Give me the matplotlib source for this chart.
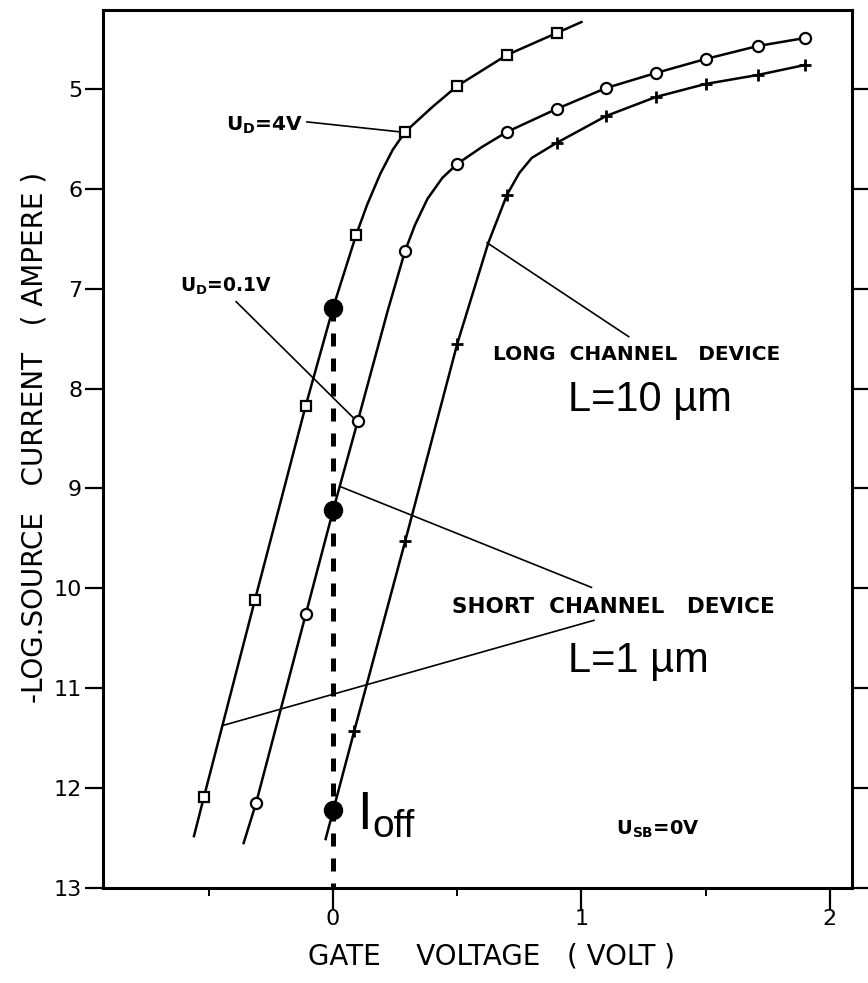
import matplotlib
matplotlib.use('agg')
import matplotlib.pyplot as plt

# -log source current vs gate voltage
sq_x = [-0.52, -0.315, -0.11, 0.093, 0.29, 0.50, 0.70, 0.90]
sq_y = [12.09, 10.12, 8.17, 6.46, 5.43, 4.97, 4.66, 4.44]
sq_path_x = [-0.56, -0.52, -0.315, -0.11, 0.0, 0.093, 0.137, 0.19, 0.24, 0.29, 0.40, 0.50, 0.70, 0.90, 1.0]
sq_path_y = [12.48, 12.09, 10.12, 8.17, 7.19, 6.46, 6.16, 5.85, 5.61, 5.43, 5.18, 4.97, 4.66, 4.44, 4.33]

ci_x = [-0.31, -0.11, 0.10, 0.29, 0.50, 0.70, 0.90, 1.10, 1.30, 1.50, 1.71, 1.90]
ci_y = [12.15, 10.26, 8.32, 6.62, 5.75, 5.43, 5.20, 4.99, 4.84, 4.70, 4.57, 4.49]
ci_path_x = [-0.36, -0.31, -0.11, 0.0, 0.10, 0.22, 0.29, 0.33, 0.38, 0.44, 0.50, 0.60, 0.70, 0.90, 1.10, 1.30, 1.50, 1.71, 1.90]
ci_path_y = [12.55, 12.15, 10.26, 9.22, 8.32, 7.22, 6.62, 6.36, 6.10, 5.89, 5.75, 5.58, 5.43, 5.20, 4.99, 4.84, 4.70, 4.57, 4.49]

pl_x = [0.085, 0.29, 0.50, 0.70, 0.90, 1.10, 1.30, 1.50, 1.71, 1.90]
pl_y = [11.43, 9.53, 7.55, 6.06, 5.54, 5.27, 5.08, 4.95, 4.86, 4.76]
pl_path_x = [-0.03, 0.085, 0.29, 0.50, 0.625, 0.70, 0.75, 0.80, 0.90, 1.10, 1.30, 1.50, 1.71, 1.90]
pl_path_y = [12.51, 11.43, 9.53, 7.55, 6.54, 6.06, 5.84, 5.69, 5.54, 5.27, 5.08, 4.95, 4.86, 4.76]

# I_off points at zero gate voltage
dot_x = [0.0, 0.0, 0.0]
dot_y = [7.19, 9.22, 12.22]

x_ticks = [0, 1, 2]
x_minor = [-0.5, 0.5, 1.5]
y_ticks = [5, 6, 7, 8, 9, 10, 11, 12, 13]

TYPE_FONT = ['DejaVu Sans']
ARIAL = ['Liberation Sans', 'DejaVu Sans']

fig = plt.figure(figsize=(8.68, 9.83), dpi=100)
ax = fig.add_axes([0.1187, 0.0966, 0.8629, 0.8932])

ax.plot(sq_path_x, sq_path_y, color='black', lw=1.8, zorder=2)
ax.plot(ci_path_x, ci_path_y, color='black', lw=1.8, zorder=2)
ax.plot(pl_path_x, pl_path_y, color='black', lw=1.8, zorder=2)

ax.plot(sq_x, sq_y, 's', ms=7, mfc='white', mec='black', mew=1.6, zorder=3)
ax.plot(ci_x, ci_y, 'o', ms=8, mfc='white', mec='black', mew=1.6, zorder=3)
ax.plot(pl_x, pl_y, '+', ms=9, mec='black', mew=2.0, zorder=3)

# dashed guide at V_G = 0
ax.plot([0, 0], [dot_y[0], 13], color='black', lw=3.6, dashes=(2.6, 2.4), zorder=4)
ax.plot(dot_x, dot_y, 'o', ms=13, color='black', zorder=5)

# leader lines of the labels
leaders = [
    ([-0.105, 0.27], [5.33, 5.43]),
    ([-0.39, 0.097], [7.13, 8.33]),
    ([0.62, 1.19], [6.54, 7.48]),
    ([0.028, 1.04], [8.98, 9.99]),
    ([-0.44, 1.05], [11.37, 10.32]),
]
for lx, ly in leaders:
    ax.plot(lx, ly, color='black', lw=1.2, zorder=2)

ax.text(-0.43, 5.36, r'U$_{\mathregular{D}}$=4V', fontsize=14.5, family=TYPE_FONT,
        fontweight='bold', va='center')
ax.text(-0.615, 6.98, r'U$_{\mathregular{D}}$=0.1V', fontsize=13.5, family=TYPE_FONT,
        fontweight='bold', va='center')
ax.text(0.644, 7.66, 'LONG  CHANNEL   DEVICE', fontsize=14.5, family=TYPE_FONT,
        fontweight='bold', va='center')
ax.text(0.946, 8.22, 'L=10 \u00b5m', fontsize=30, family=ARIAL, va='baseline')
ax.text(0.479, 10.19, 'SHORT  CHANNEL   DEVICE', fontsize=15.5, family=TYPE_FONT,
        fontweight='bold', va='center')
ax.text(0.946, 10.84, 'L=1 \u00b5m', fontsize=30, family=ARIAL, va='baseline')
ax.text(0.098, 12.41, 'I', fontsize=38, family=ARIAL, va='baseline')
ax.text(0.16, 12.49, 'off', fontsize=28, family=ARIAL, va='baseline')
ax.text(1.14, 12.41, r'U$_{\mathregular{SB}}$=0V', fontsize=14, family=TYPE_FONT,
        fontweight='bold', va='center')

ax.set_xlim(-0.926, 2.089)
ax.set_ylim(13, 4.21)
ax.set_xticks(x_ticks)
ax.set_xticks(x_minor, minor=True)
ax.set_yticks(y_ticks)
ax.set_yticklabels([str(v) for v in y_ticks], family=TYPE_FONT, fontsize=16)
ax.set_xticklabels([str(v) for v in x_ticks], family=TYPE_FONT, fontsize=16)

ax.tick_params(axis='y', direction='out', length=13, width=1.6, pad=2, right=True,
               labelright=False)
ax.tick_params(axis='x', which='major', direction='out', length=15, width=1.6, pad=0)
ax.tick_params(axis='x', which='minor', direction='out', length=6, width=1.4)
for sp in ax.spines.values():
    sp.set_linewidth(2.2)

fig.text(491 / 868, 1 - 957 / 983, 'GATE    VOLTAGE   ( VOLT )', fontsize=20,
         family=TYPE_FONT, ha='center', va='center')
fig.text(35 / 868, 1 - 437 / 983, '-LOG.SOURCE   CURRENT   ( AMPERE )', fontsize=20,
         family=TYPE_FONT, ha='center', va='center', rotation=90)

fig.savefig('out.png', dpi=100)
plt.close(fig)
